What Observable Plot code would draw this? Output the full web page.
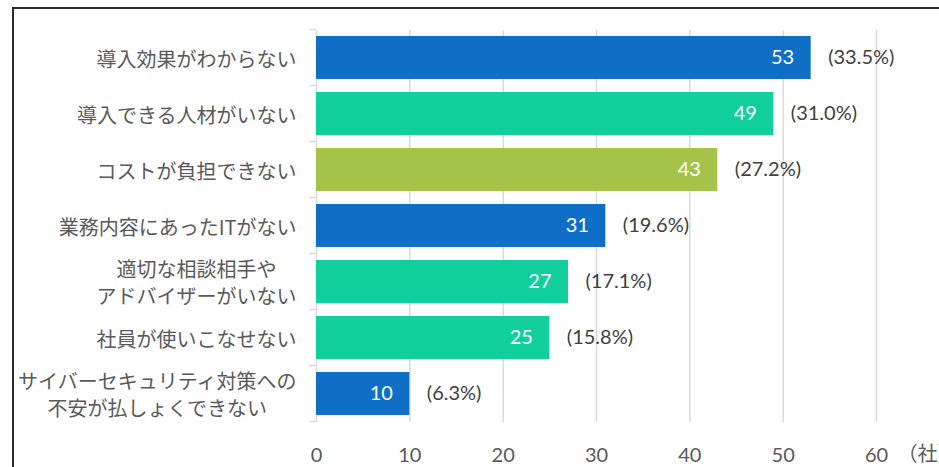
<!DOCTYPE html>
<html>
<head>
<meta charset="utf-8">
<script src="https://cdn.jsdelivr.net/npm/d3@7"></script>
<script src="https://cdn.jsdelivr.net/npm/@observablehq/plot@0.6"></script>
<style>
  html, body { margin: 0; padding: 0; background: #fff; overflow: hidden; }
  #wrap { position: relative; width: 939px; height: 467px; overflow: hidden; }
  #frame { position: absolute; left: 12px; top: 7px; width: 2000px; height: 2000px;
           border-left: 2px solid #2b2b2b; border-top: 2px solid #2b2b2b; }
  #chart { position: absolute; left: 0; top: 0; }
</style>
</head>
<body>
<div id="wrap"><div id="frame"></div><div id="chart"></div></div>
<script>
const categories = [
  "導入効果がわからない",
  "導入できる人材がいない",
  "コストが負担できない",
  "業務内容にあったITがない",
  "適切な相談相手や\nアドバイザーがいない",
  "社員が使いこなせない",
  "サイバーセキュリティ対策への\n不安が払しょくできない"
];
const values = [53, 49, 43, 31, 27, 25, 10];
const percents = ["33.5%", "31.0%", "27.2%", "19.6%", "17.1%", "15.8%", "6.3%"];
const barColors = ["#0F6FC6", "#10CF9B", "#A5C249", "#0F6FC6", "#10CF9B", "#10CF9B", "#0F6FC6"];
const xTicks = [0, 10, 20, 30, 40, 50, 60];
const unitLabel = "（社）";

const data = categories.map((c, i) => ({category: c, value: values[i], pct: percents[i], color: barColors[i]}));

const NUM_FONT = "Lato, 'Noto Sans', sans-serif";
const CJK_FONT = "'Noto Sans CJK JP', sans-serif";

function bandTicks(index, scales) {
  const y = scales.y, x = scales.x;
  const ns = "http://www.w3.org/2000/svg";
  const g = document.createElementNS(ns, "g");
  const step = y.step ? y.step() : 56;
  const bw = y.bandwidth ? y.bandwidth() : 43;
  const gap = (step - bw) / 2;
  const x0 = x(0);
  const ys = categories.map(c => y(c) - gap);
  ys.push(y(categories[categories.length - 1]) + bw + gap);
  for (const yy of ys) {
    const l = document.createElementNS(ns, "line");
    l.setAttribute("x1", x0 - 7); l.setAttribute("x2", x0);
    l.setAttribute("y1", yy); l.setAttribute("y2", yy);
    l.setAttribute("stroke", "#d9d9d9"); l.setAttribute("stroke-width", 1.5);
    g.appendChild(l);
  }
  return g;
}

const chart = Plot.plot({
  width: 939,
  height: 467,
  marginLeft: 316,
  marginTop: 30,
  marginBottom: 45,
  marginRight: 63,
  style: {background: "transparent", color: "#595959", fontFamily: NUM_FONT, overflow: "visible"},
  x: {domain: [0, 60]},
  y: {domain: categories, paddingInner: 0.232, paddingOuter: 0.116},
  color: {type: "identity"},
  marks: [
    Plot.ruleX(xTicks, {stroke: "#d9d9d9", strokeWidth: 1.5}),
    bandTicks,
    Plot.barX(data, {x: "value", y: "category", fill: "color"}),
    Plot.text(data, {x: "value", y: "category", text: d => String(d.value), textAnchor: "end", dx: -17, fill: "white", fontSize: 20, fontFamily: NUM_FONT}),
    Plot.text(data, {x: "value", y: "category", text: d => `(${d.pct})`, textAnchor: "start", dx: 17, fill: "#404040", fontSize: 20, fontFamily: NUM_FONT}),
    Plot.axisX({ticks: xTicks, tickSize: 0, tickPadding: 25, fontSize: 20, label: null, fill: "#595959"}),
    Plot.text([{x: 60, t: unitLabel}], {x: "x", text: "t", frameAnchor: "bottom", lineAnchor: "middle", dy: 32, dx: 21, textAnchor: "start", fill: "#595959", fontSize: 20, fontFamily: CJK_FONT}),
    Plot.axisY({tickSize: 0, tickPadding: 20, fontSize: 20, label: null, fill: "#595959", fontFamily: CJK_FONT, lineHeight: 1.35})
  ]
});

document.getElementById("chart").appendChild(chart);

// center multi-line category labels like the reference
chart.querySelectorAll('g[aria-label="y-axis tick label"] text').forEach(t => {
  const spans = t.querySelectorAll("tspan");
  if (spans.length > 1) {
    let maxW = 0;
    spans.forEach(s => { maxW = Math.max(maxW, s.getComputedTextLength()); });
    t.setAttribute("text-anchor", "middle");
    spans.forEach(s => s.setAttribute("x", -maxW / 2));
  }
});
</script>
</body>
</html>
